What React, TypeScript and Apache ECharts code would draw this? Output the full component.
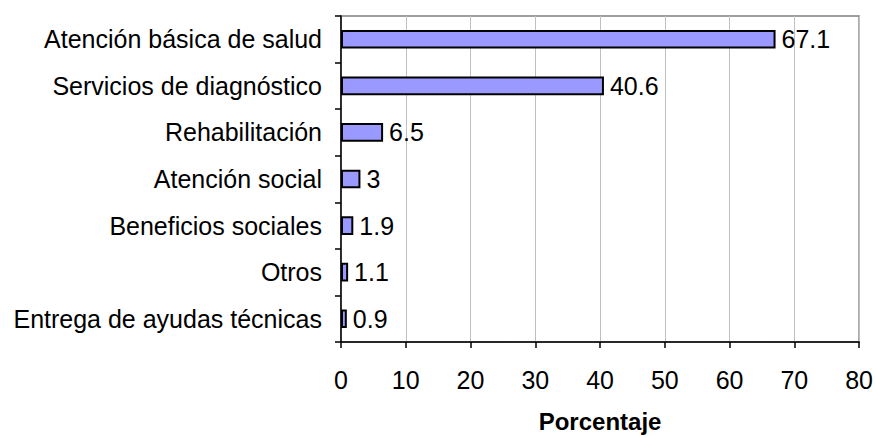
import React, { useEffect, useRef } from "react";
import * as echarts from "echarts";

const categories = [
  "Atención básica de salud",
  "Servicios de diagnóstico",
  "Rehabilitación",
  "Atención social",
  "Beneficios sociales",
  "Otros",
  "Entrega de ayudas técnicas",
];
const values = [67.1, 40.6, 6.5, 3, 1.9, 1.1, 0.9];
const axisTitle = "Porcentaje";

export default function App() {
  const ref = useRef<HTMLDivElement>(null);
  useEffect(() => {
    const chart = echarts.init(ref.current!, null, { renderer: "svg" });
    const font = "Liberation Sans, Arial, sans-serif";
    chart.setOption({
      animation: false,
      backgroundColor: "#ffffff",
      grid: { left: 341, right: 16, top: 16, bottom: 93, show: true, borderColor: "#808080", borderWidth: 1.5 },
      xAxis: {
        type: "value",
        min: 0,
        max: 80,
        interval: 10,
        name: axisTitle,
        nameLocation: "middle",
        nameGap: 67,
        nameTextStyle: { fontFamily: font, fontSize: 24, fontWeight: "bold", color: "#000" },
        axisLine: { show: true, lineStyle: { color: "#000", width: 1.5 } },
        axisTick: { show: true, length: 6, lineStyle: { color: "#000", width: 1.5 } },
        axisLabel: { fontFamily: font, fontSize: 25, color: "#000", margin: 25 },
        splitLine: { show: true, lineStyle: { color: "#c0c0c0", width: 1 } },
      },
      yAxis: {
        type: "category",
        data: categories,
        inverse: true,
        axisLine: { show: true, lineStyle: { color: "#000", width: 1.5 } },
        axisTick: { show: true, length: 6, alignWithLabel: false, lineStyle: { color: "#000", width: 1.5 } },
        axisLabel: { fontFamily: font, fontSize: 25, color: "#000", margin: 19 },
        splitLine: { show: false },
      },
      series: [
        {
          type: "bar",
          data: values,
          barWidth: "40%",
          itemStyle: { color: "#9999ff", borderColor: "#000", borderWidth: 2 },
          label: {
            show: true,
            position: "right",
            distance: 6,
            fontFamily: font,
            fontSize: 25,
            color: "#000",
          },
        },
      ],
    });
    return () => chart.dispose();
  }, []);
  return <div ref={ref} style={{ width: 876, height: 438, position: "absolute", left: 0, top: 0 }} />;
}
